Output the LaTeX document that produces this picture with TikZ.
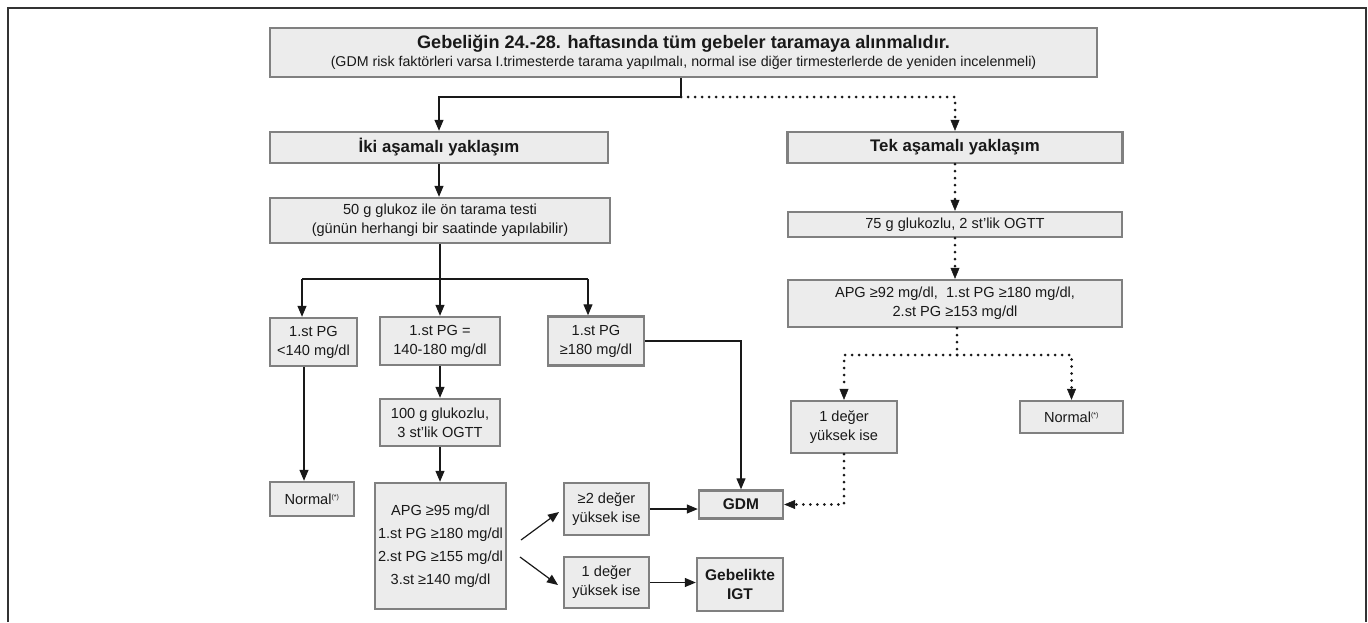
\documentclass[tikz,border=0pt]{standalone}
\usepackage{fontspec}
\setmainfont{Liberation Sans}
\usetikzlibrary{arrows.meta,calc}
\definecolor{boxfill}{RGB}{236,236,236}
\definecolor{boxline}{RGB}{128,128,128}
\definecolor{inkc}{RGB}{25,25,25}
\begin{document}
\begin{tikzpicture}[x=1pt,y=-1pt,
  box/.style={draw=boxline, fill=boxfill, line width=2.4pt, inner sep=0pt, align=center,
    font=\fontsize{14.6}{19}\selectfont, text=inkc},
  sz/.style 2 args={minimum width=#1pt, minimum height=#2pt},
  head/.style={font=\bfseries\fontsize{16.8}{20}\selectfont},
  boldt/.style={font=\bfseries\fontsize{15.5}{19}\selectfont},
  conn/.style={line width=1.2pt, draw=inkc},
  arr/.style={conn, -{Triangle[length=11pt,width=9pt]}},
  dots/.style={line width=3pt, line cap=round, dash pattern=on 0pt off 7pt, draw=inkc},
  darr/.style={dots, -{Triangle[length=11pt,width=9pt,line width=0.5pt]}},
  framel/.style={line width=1.6pt, draw=black!80}
]
\useasboundingbox (0,0) rectangle (1368,622);
\draw[framel] (8,622) -- (8,8) -- (1366,8) -- (1366,622);

% nodes
\node[box, sz={827}{49}] (top) at (683.5,52.5)
  {{\bfseries\fontsize{18.1}{20}\selectfont Gebeliğin 24.-28. haftasında tüm gebeler taramaya alınmalıdır.}\\[-1pt]
   {\fontsize{14.2}{16}\selectfont (GDM risk faktörleri varsa I.trimesterde tarama yapılmalı, normal ise diğer tirmesterlerde de yeniden incelenmeli)}};
\node[box, head, sz={338}{31}] (iki) at (439,147.5) {İki aşamalı yaklaşım};
\node[box, head, sz={335}{31}] (tek) at (955,147.5) {Tek aşamalı yaklaşım};
\node[box, sz={340}{45}] (g50) at (440,220.5)
  {50 g glukoz ile ön tarama testi\\(günün herhangi bir saatinde yapılabilir)};
\node[box, sz={334}{25}] (g75) at (955,224.5) {75 g glukozlu, 2 st’lik OGTT};
\node[box, sz={334}{47}] (apgA) at (955,303.5)
  {APG ≥92 mg/dl,\ \ 1.st PG ≥180 mg/dl,\\2.st PG ≥153 mg/dl};
\node[box, sz={87}{48}] (p140) at (313.5,342) {1.st PG\\<140 mg/dl};
\node[box, sz={120}{48}] (pmid) at (440,341) {1.st PG =\\140-180 mg/dl};
\node[box, sz={96}{49}] (p180) at (596,341) {1.st PG\\≥180 mg/dl};
\node[box, sz={120}{47}] (g100) at (440,422.5) {100 g glukozlu,\\3 st’lik OGTT};
\node[box, sz={84}{34}] (nl) at (312,499) {Normal\textsuperscript{\fontsize{7}{8}\selectfont(*)}};
\node[box, sz={131}{126}, font=\fontsize{14.6}{23}\selectfont] (apgB) at (440.5,546)
  {APG ≥95 mg/dl\\1.st PG ≥180 mg/dl\\2.st PG ≥155 mg/dl\\3.st ≥140 mg/dl};
\node[box, sz={85}{52}] (two) at (606.5,509) {≥2 değer\\yüksek ise};
\node[box, sz={85}{51}] (one) at (606.5,582.5) {1 değer\\yüksek ise};
\node[box, boldt, sz={84}{28}] (gdm) at (741,504.5) {GDM};
\node[box, boldt, sz={86}{53}] (igt) at (740,584.5) {Gebelikte\\IGT};
\node[box, sz={106}{52}] (oneR) at (844,427) {1 değer\\yüksek ise};
\node[box, sz={103}{32}] (nr) at (1071.5,417) {Normal\textsuperscript{\fontsize{7}{8}\selectfont(*)}};

% connectors left
\coordinate (j1) at (681,97);
\draw[conn] (j1 |- top.south) -- (j1);
\draw[arr] (j1) -| (iki.north);
\draw[darr] (j1) -| (tek.north);
\draw[arr] (iki.south) -- (iki.south |- g50.north);
\coordinate (j2) at (440,279);
\coordinate (bl) at (302,279);
\coordinate (br) at (588,279);
\draw[conn] (g50.south) -- (j2);
\draw[conn] (bl) -- (br);
\draw[arr] (bl) -- (bl |- p140.north);
\draw[arr] (j2) -- (j2 |- pmid.north);
\draw[arr] (br) -- (br |- p180.north);
\draw[arr] (pmid.south) -- (pmid.south |- g100.north);
\draw[arr] (g100.south) -- (g100.south |- apgB.north);
\coordinate (lv) at (304,0);
\draw[arr] (p140.south -| lv) -- (nl.north -| lv);
\draw[arr] (p180.east) -| (gdm.north);
\coordinate (a1s) at (521,540);
\coordinate (a1e) at (559,512);
\coordinate (a2s) at (520,557);
\coordinate (a2e) at (558,585);
\draw[arr] (a1s) -- (a1e);
\draw[arr] (a2s) -- (a2e);
\draw[arr] (two.east) -- (two.east -| gdm.west);
\draw[arr] (one.east) -- (one.east -| igt.west);

% connectors right
\draw[darr] (tek.south) -- (g75.north);
\draw[darr] (g75.south) -- (apgA.north);
\coordinate (j3) at (957,355);
\draw[dots] (apgA.south -| j3) -- (j3);
\draw[darr] (j3) -| (oneR.north);
\draw[darr] (j3) -| (nr.north);
\draw[darr] (oneR.south) |- (gdm.east);
\end{tikzpicture}
\end{document}
